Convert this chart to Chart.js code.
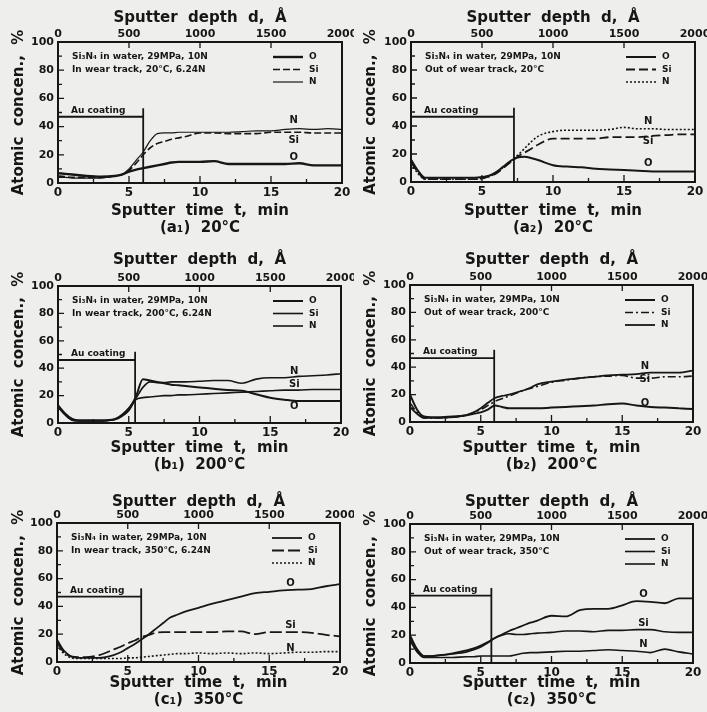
<!DOCTYPE html>
<html>
<head>
<meta charset="utf-8">
<script src="https://cdn.jsdelivr.net/npm/chart.js@4.4.1/dist/chart.umd.min.js"></script>
<style>
  html, body { margin: 0; padding: 0; background: #eeeeec; }
  body { width: 707px; height: 712px; position: relative; overflow: hidden; }
  canvas { position: absolute; }
</style>
</head>
<body>
<canvas id="a1"></canvas>
<canvas id="a2"></canvas>
<canvas id="b1"></canvas>
<canvas id="b2"></canvas>
<canvas id="c1"></canvas>
<canvas id="c2"></canvas>
<script>
"use strict";

// sputter time, min (shared by all six profiles)
const sputterTime = [0, 0.5, 1, 1.5, 2, 3, 4, 4.5, 5, 5.5, 6, 6.5, 7, 7.5, 8, 8.5, 9, 10, 11, 12, 13, 14, 15, 16, 17, 18, 19, 20];

// atomic concentration, %  (a = 20C, b = 200C, c = 350C; 1 = in wear track, 2 = out of it)
const a1O  = [7, 6.5, 6, 5.5, 5, 4.5, 5, 6, 8, 9.5, 10.5, 11.5, 12.5, 13.5, 14.5, 15, 15, 15, 15.5, 13.5, 13.5, 13.5, 13.5, 13.5, 14, 12.5, 12.5, 12.5];
const a1Si = [5, 4.5, 4, 4, 4, 4, 5, 6, 9, 14, 20, 25, 28, 29.5, 31, 32, 33, 35.5, 35.5, 35, 35, 35, 36, 36, 36, 35.5, 35.5, 35.5];
const a1N  = [4, 4, 3.5, 3.5, 3.5, 3.5, 5, 6, 10, 16, 22, 30, 35, 35.5, 35.5, 36, 36, 36, 36, 36, 36.5, 37, 37, 38, 38.5, 38, 38.5, 38];

const a2O  = [16, 8, 3, 3, 3, 3, 3, 3, 3.5, 4.5, 7, 11, 15, 17.5, 18, 17, 15.5, 12, 11, 10.5, 9.5, 9, 8.5, 8, 7.5, 7.5, 7.5, 7.5];
const a2Si = [14, 7, 2, 2, 2, 2, 2, 2, 2.5, 4, 6, 10, 14, 18, 21, 24, 27, 31, 31, 31, 31, 32, 32, 32, 33, 33.5, 34, 34];
const a2N  = [13, 6, 2, 2, 2, 2, 2, 2, 2.5, 4, 6.5, 10.5, 15, 19, 24, 29, 33, 36, 37, 37, 37, 37.5, 39, 38, 38, 37.5, 37.5, 37.5];

const b1O  = [13, 7, 3, 2, 2, 2, 2.5, 5, 10, 19, 32, 31, 30, 29, 28, 27.5, 27, 26, 25, 24, 23.5, 21, 18.5, 17, 16, 16, 16, 16];
const b1Si = [12, 6, 2, 1.5, 1.5, 1.5, 2.5, 5, 9, 17, 18.5, 19, 19.5, 20, 20, 20.5, 20.5, 21, 21.5, 22, 22.5, 23, 23.5, 24, 24, 24.5, 24.5, 24.5];
const b1N  = [12, 6, 2, 1.5, 1.5, 1.5, 3, 6, 11, 18, 26, 30, 29.5, 29.5, 30, 30, 30, 30.5, 31, 31, 29, 32, 33, 33, 34, 34.5, 35, 36];

const b2O  = [20, 9, 4, 3.5, 3.5, 4, 5, 6, 7, 9, 12, 11, 10, 10, 10, 10, 10, 10.5, 11, 11.5, 12, 13, 13.5, 12, 11, 10.5, 10, 9.5];
const b2Si = [14, 7, 3, 3, 3, 3.5, 5, 7, 9, 12, 15, 17, 19, 21, 23, 24.5, 26, 29, 30.5, 32, 33, 33.5, 34, 32, 32, 33, 33, 33.5];
const b2N  = [11, 6, 3, 3, 3, 3.5, 5, 7, 10, 14, 17.5, 19, 20, 21.5, 23, 25, 27.5, 29.5, 31, 32, 33, 34, 34.5, 35, 36, 36, 36, 37.5];

const c1O  = [16, 8, 4, 3, 3, 3, 5, 7, 10, 13, 16.5, 20, 24, 28, 32, 34, 36, 39, 42, 44.5, 47, 49.5, 50.5, 51.5, 52, 52.5, 54.5, 56];
const c1Si = [14, 7, 4, 3.5, 3.5, 5, 9, 11, 13.5, 15.5, 18, 19.5, 21, 21.5, 21.5, 21.5, 21.5, 21.5, 21.5, 22, 22, 20, 21.5, 21.5, 21.5, 21, 19.5, 18.5];
const c1N  = [12, 6, 3, 2.5, 2.5, 2.5, 2.5, 2.5, 3, 3, 3.5, 4, 4.5, 5, 5.5, 6, 6, 6.5, 6, 6.5, 6, 6.5, 6, 6.5, 7, 7, 7.5, 7.5];

const c2O  = [20, 10, 5, 5, 5.5, 7, 9, 10.5, 12.5, 15, 18, 20.5, 23, 25, 27, 29, 30.5, 34, 33.5, 38, 39, 39, 41.5, 44.5, 44, 43, 46.5, 46.5];
const c2Si = [18, 9, 5, 5, 5.5, 6.5, 8, 9.5, 11.5, 14.5, 18, 20, 21, 20.5, 20.5, 21, 21.5, 22, 23, 23, 22.5, 23.5, 23.5, 24, 24, 22.5, 22, 22];
const c2N  = [16, 8, 4, 4, 4, 4, 4.5, 4.5, 5, 5, 5, 5, 5, 6, 7, 7.5, 7.5, 8, 8.5, 8.5, 9, 9.5, 9, 8.5, 7.5, 10, 8, 6.5];

// Au coating box, one value per panel (a1, a2, b1, b2, c1, c2)
const coatTop  = [47, 46.6, 46, 46.6, 47, 48.4];
const coatEnd  = [6.0, 7.25, 5.45, 5.95, 5.95, 5.75];
const coatPeak = [53, 53, 52, 52.7, 53, 54];

// tick labels
const timeTicks  = [0, 5, 10, 15, 20];
const depthTicks = [0, 500, 1000, 1500, 2000];
const concTicks  = [0, 20, 40, 60, 80, 100];

const ink = '#161616';
const fontFam = '"DejaVu Sans", sans-serif';
const noteTitle = 'Si\u2083N\u2084 in water, 29MPa, 10N';

const panels = [
  { id: 'a1', O: a1O, Si: a1Si, N: a1N, caption: '(a\u2081)  20\u00B0C', note: 'In wear track, 20\u00B0C, 6.24N',
    style: { O: [2.4, []], Si: [1.6, [7, 3]], N: [1.2, []] },
    labels: [['N', 16.6, 44.5], ['Si', 16.6, 30.5], ['O', 16.6, 18.5]],
    canvas: [0, 0, 354, 240], plot: [58, 42, 342, 183], pad: [9.75, 3.75] },
  { id: 'a2', O: a2O, Si: a2Si, N: a2N, caption: '(a\u2082)  20\u00B0C', note: 'Out of wear track, 20\u00B0C',
    style: { O: [2, []], Si: [1.8, [9, 4]], N: [1.6, [2, 2]] },
    labels: [['N', 16.7, 43], ['Si', 16.7, 28.8], ['O', 16.7, 13.4]],
    canvas: [352, 0, 355, 240], plot: [411, 42, 695, 182], pad: [9.75, 3.75] },
  { id: 'b1', O: b1O, Si: b1Si, N: b1N, caption: '(b\u2081)  200\u00B0C', note: 'In wear track, 200\u00B0C, 6.24N',
    style: { O: [2, []], Si: [1.6, []], N: [1.6, []] },
    labels: [['N', 16.7, 37.4], ['Si', 16.7, 28], ['O', 16.7, 12]],
    canvas: [0, 235, 354, 240], plot: [58, 286, 341, 423], pad: [16.75, 1.75] },
  { id: 'b2', O: b2O, Si: b2Si, N: b2N, caption: '(b\u2082)  200\u00B0C', note: 'Out of wear track, 200\u00B0C',
    style: { O: [2, []], Si: [1.6, [8, 3, 2, 3]], N: [1.8, []] },
    labels: [['N', 16.6, 40.5], ['Si', 16.6, 30.8], ['O', 16.6, 13.8]],
    canvas: [352, 235, 355, 240], plot: [410, 285, 693, 422], pad: [16.75, 1.75] },
  { id: 'c1', O: c1O, Si: c1Si, N: c1N, caption: '(c\u2081)  350\u00B0C', note: 'In wear track, 350\u00B0C, 6.24N',
    style: { O: [1.8, []], Si: [1.8, [12, 4]], N: [1.6, [2, 2]] },
    labels: [['O', 16.5, 56.6], ['Si', 16.5, 26.5], ['N', 16.5, 9.7]],
    canvas: [0, 470, 354, 242], plot: [57, 523, 340, 662], pad: [23.75, 3.75] },
  { id: 'c2', O: c2O, Si: c2Si, N: c2N, caption: '(c\u2082)  350\u00B0C', note: 'Out of wear track, 350\u00B0C',
    style: { O: [1.8, []], Si: [1.6, []], N: [1.6, []] },
    labels: [['O', 16.5, 49], ['Si', 16.5, 28.8], ['N', 16.5, 13.2]],
    canvas: [352, 470, 355, 242], plot: [410, 524, 693, 663], pad: [23.75, 3.75] }
];

function pts(vals) {
  return vals.map((v, i) => ({ x: sputterTime[i], y: v }));
}

function zeroPad(s) {
  s.paddingLeft = 0; s.paddingRight = 0; s.paddingTop = 0; s.paddingBottom = 0;
}

// frame, inward ticks, legend and text notes
function decorFor(p, k) {
  return {
    id: 'decor',
    afterDatasetsDraw(chart) {
      const { ctx, chartArea: a } = chart;
      const x = chart.scales.x, y = chart.scales.y, d = chart.scales.x2;
      ctx.save();
      ctx.strokeStyle = ink;
      ctx.fillStyle = ink;
      ctx.setLineDash([]);
      ctx.lineWidth = 2;
      ctx.strokeRect(a.left, a.top, a.right - a.left, a.bottom - a.top);

      ctx.lineWidth = 1.3;
      ctx.beginPath();
      for (let t = 2.5; t < 20; t += 2.5) {
        const px = x.getPixelForValue(t);
        ctx.moveTo(px, a.bottom);
        ctx.lineTo(px, a.bottom - (t % 5 === 0 ? 7 : 4));
      }
      depthTicks.slice(1, -1).forEach(v => {
        const px = d.getPixelForValue(v);
        ctx.moveTo(px, a.top);
        ctx.lineTo(px, a.top + 6);
      });
      for (let v = 10; v < 100; v += 10) {
        const py = y.getPixelForValue(v);
        ctx.moveTo(a.left, py);
        ctx.lineTo(a.left + (v % 20 === 0 ? 6 : 4), py);
      }
      ctx.stroke();

      // legend
      ctx.font = 'bold 9px ' + fontFam;
      ctx.textBaseline = 'middle';
      ctx.textAlign = 'left';
      chart.data.datasets.slice(0, 3).forEach((ds, i) => {
        const ly = a.top + 15 + i * 12.5;
        ctx.lineWidth = ds.borderWidth;
        ctx.setLineDash(ds.borderDash || []);
        ctx.beginPath();
        ctx.moveTo(a.left + 215, ly);
        ctx.lineTo(a.left + 245, ly);
        ctx.stroke();
        ctx.fillText(ds.label, a.left + 251, ly);
      });
      ctx.setLineDash([]);

      ctx.fillText(noteTitle, a.left + 14, a.top + 15);
      ctx.fillText(p.note, a.left + 14, a.top + 28);

      ctx.textBaseline = 'alphabetic';
      ctx.fillText('Au coating', a.left + 13, y.getPixelForValue(coatTop[k]) - 4);

      ctx.font = 'bold 10px ' + fontFam;
      ctx.textAlign = 'center';
      ctx.textBaseline = 'middle';
      p.labels.forEach(([txt, t, v]) => {
        ctx.fillText(txt, x.getPixelForValue(t), y.getPixelForValue(v));
      });
      ctx.restore();
    }
  };
}

panels.forEach((p, k) => {
  const [cl, ct, cw, ch] = p.canvas;
  const [pl, pt, pr, pb] = p.plot;
  const el = document.getElementById(p.id);
  el.width = cw;
  el.height = ch;
  el.style.left = cl + 'px';
  el.style.top = ct + 'px';

  const tickFont = { family: fontFam, weight: 'bold', size: 12 };
  const smallTick = { family: fontFam, weight: 'bold', size: 11 };
  const titleFont = { family: fontFam, weight: 'bold', size: 15, lineHeight: 1.1 };

  const line = (label, vals) => ({
    label: label,
    data: pts(vals),
    borderColor: ink,
    borderWidth: p.style[label][0],
    borderDash: p.style[label][1],
    cubicInterpolationMode: 'monotone',
    pointRadius: 0,
    fill: false
  });
  const boxLine = data => ({
    label: 'Au', data: data, borderColor: ink, borderWidth: 1.8, pointRadius: 0, fill: false
  });

  new Chart(el, {
    type: 'line',
    data: {
      datasets: [
        line('O', p.O),
        line('Si', p.Si),
        line('N', p.N),
        boxLine([{ x: 0, y: coatTop[k] }, { x: coatEnd[k], y: coatTop[k] }]),
        boxLine([{ x: coatEnd[k], y: 0 }, { x: coatEnd[k], y: coatPeak[k] }])
      ]
    },
    options: {
      responsive: false,
      animation: false,
      devicePixelRatio: 1,
      layout: { padding: { left: 0, top: 0, bottom: 0, right: cl + cw - pr } },
      plugins: { legend: { display: false }, tooltip: { enabled: false } },
      scales: {
        x: {
          type: 'linear', position: 'bottom', min: 0, max: 20,
          afterBuildTicks: s => { s.ticks = timeTicks.map(v => ({ value: v })); },
          ticks: { font: tickFont, color: ink, padding: 3, maxRotation: 0, autoSkip: false, callback: v => String(v) },
          grid: { display: false, drawTicks: false },
          border: { display: false },
          title: { display: true, text: ['Sputter  time  t,  min', p.caption], font: titleFont, color: ink,
                   padding: { top: 0, bottom: p.pad[1] } },
          afterFit: s => { s.height = ct + ch - pb; zeroPad(s); }
        },
        x2: {
          type: 'linear', position: 'top', min: 0, max: 2000,
          afterBuildTicks: s => { s.ticks = depthTicks.map(v => ({ value: v })); },
          ticks: { font: smallTick, color: ink, padding: 1, maxRotation: 0, autoSkip: false, callback: v => String(v) },
          grid: { display: false, drawTicks: false },
          border: { display: false },
          title: { display: true, text: 'Sputter  depth  d,  \u00C5', font: titleFont, color: ink,
                   padding: { top: p.pad[0], bottom: 0 } },
          afterFit: s => { s.height = pt - ct; zeroPad(s); }
        },
        y: {
          type: 'linear', position: 'left', min: 0, max: 100,
          afterBuildTicks: s => { s.ticks = concTicks.map(v => ({ value: v })); },
          ticks: { font: smallTick, color: ink, padding: 4, autoSkip: false, callback: v => String(v) },
          grid: { display: false, drawTicks: false },
          border: { display: false },
          title: { display: true, text: 'Atomic  concen.,  %', font: titleFont, color: ink,
                   padding: { top: 11, bottom: 0 } },
          afterFit: s => { s.width = pl - cl; zeroPad(s); }
        }
      }
    },
    plugins: [decorFor(p, k)]
  });
});
</script>
</body>
</html>
